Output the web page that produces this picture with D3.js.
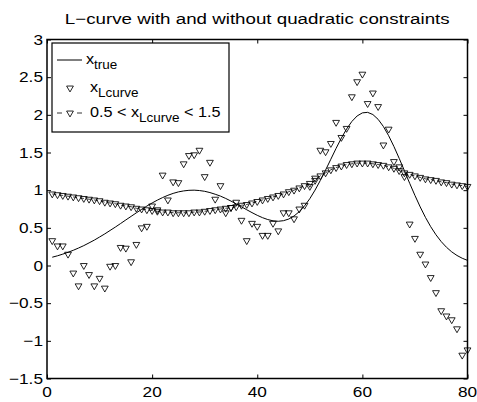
<!DOCTYPE html>
<html>
<head>
<meta charset="utf-8">
<script src="https://cdn.jsdelivr.net/npm/d3@7"></script>
<style>
  html, body { margin: 0; padding: 0; background: #fff; }
  svg { display: block; }
  text { font-family: "Liberation Sans", Arial, Helvetica, sans-serif; fill: #000; }
</style>
</head>
<body>
<div id="chart"></div>
<script>
const titleText = "L\u2212curve with and without quadratic constraints";
const xTicks = [0, 20, 40, 60, 80];
const yTicks = [-1.5, -1, -0.5, 0, 0.5, 1, 1.5, 2, 2.5, 3];

const xTrue = [
  0.110, 0.129, 0.151, 0.175, 0.202, 0.232, 0.264, 0.300, 0.337, 0.378,
  0.420, 0.465, 0.510, 0.557, 0.605, 0.652, 0.699, 0.745, 0.789, 0.830,
  0.868, 0.902, 0.932, 0.957, 0.977, 0.990, 0.998, 1.000, 0.995, 0.985,
  0.968, 0.946, 0.921, 0.890, 0.855, 0.818, 0.779, 0.740, 0.702, 0.666,
  0.635, 0.610, 0.593, 0.587, 0.595, 0.617, 0.657, 0.715, 0.792, 0.887,
  1.001, 1.129, 1.267, 1.411, 1.555, 1.691, 1.812, 1.912, 1.985, 2.026,
  2.033, 2.004, 1.940, 1.845, 1.723, 1.580, 1.423, 1.258, 1.091, 0.930,
  0.778, 0.639, 0.515, 0.408, 0.317, 0.242, 0.181, 0.133, 0.096, 0.068
];

const xLcurve = [
  0.33, 0.26, 0.26, 0.15, -0.10, -0.27, 0.00, -0.12, -0.27, -0.17,
  -0.30, -0.01, 0.00, 0.24, 0.23, 0.05, 0.28, 0.50, 0.52, 0.79,
  0.74, 1.20, 0.87, 1.11, 1.10, 1.35, 1.46, 1.47, 1.53, 1.18,
  1.37, 0.88, 1.06, 0.70, 0.77, 0.84, 0.60, 0.33, 0.56, 0.52,
  0.40, 0.40, 0.56, 0.46, 0.70, 0.70, 0.62, 0.75, 0.80, 1.05,
  1.16, 1.53, 1.51, 1.62, 1.90, 1.70, 1.82, 2.24, 2.44, 2.54,
  2.15, 2.29, 2.11, 1.60, 1.81, 1.38, 1.31, 1.18, 0.55, 0.36,
  0.15, 0.02, -0.16, -0.36, -0.60, -0.67, -0.72, -0.84, -1.19, -1.12
];

const xConstr = [
  0.95, 0.94, 0.93, 0.92, 0.91, 0.90, 0.89, 0.88, 0.87, 0.86,
  0.84, 0.83, 0.82, 0.80, 0.79, 0.78, 0.76, 0.75, 0.74, 0.73,
  0.72, 0.71, 0.71, 0.70, 0.70, 0.70, 0.70, 0.71, 0.71, 0.72,
  0.73, 0.74, 0.75, 0.76, 0.77, 0.78, 0.80, 0.81, 0.83, 0.85,
  0.87, 0.89, 0.91, 0.93, 0.95, 0.98, 1.00, 1.03, 1.06, 1.09,
  1.13, 1.19, 1.23, 1.27, 1.30, 1.32, 1.34, 1.35, 1.36, 1.36,
  1.36, 1.35, 1.34, 1.33, 1.31, 1.29, 1.26, 1.23, 1.21, 1.19,
  1.17, 1.15, 1.14, 1.13, 1.11, 1.10, 1.08, 1.07, 1.06, 1.05
];

const idx = d3.range(1, xTrue.length + 1);
const legendLabels = [
  { main: "x", sub: "true", tail: "" },
  { main: "x", sub: "Lcurve", tail: "" },
  { main: "0.5 < x", sub: "Lcurve", tail: " < 1.5" }
];

(function () {
const W = 477, H = 402;
const pL = 47, pR = 467.5, pT = 39.5, pB = 378.5;
const fs = 15, sx = 1.15, lsx = 1.08;

const svg = d3.select("#chart").append("svg").attr("width", W).attr("height", H);

const x = d3.scaleLinear().domain([0, 80]).range([pL, pR]);
const y = d3.scaleLinear().domain([-1.5, 3]).range([pB, pT]);
const fmt = d3.format("~g");

const gB = svg.append("g").attr("transform", `translate(0,${pB})`)
  .call(d3.axisBottom(x).tickValues(xTicks).tickSize(-4).tickFormat(""));
const gT = svg.append("g").attr("transform", `translate(0,${pT})`)
  .call(d3.axisTop(x).tickValues(xTicks).tickSize(-4).tickFormat(""));
const gL = svg.append("g").attr("transform", `translate(${pL},0)`)
  .call(d3.axisLeft(y).tickValues(yTicks).tickSize(-4).tickFormat(""));
const gR = svg.append("g").attr("transform", `translate(${pR},0)`)
  .call(d3.axisRight(y).tickValues(yTicks).tickSize(-4).tickFormat(""));
[gB, gT, gL, gR].forEach(g => {
  g.select(".domain").remove();
  g.selectAll(".tick line").attr("stroke", "#000").attr("stroke-width", 1);
});
svg.append("rect").attr("x", pL).attr("y", pT)
  .attr("width", pR - pL).attr("height", pB - pT)
  .attr("fill", "none").attr("stroke", "#000").attr("stroke-width", 1.5);

svg.append("g").selectAll("text").data(xTicks).join("text")
  .attr("transform", d => `translate(${x(d)},${pB + 18}) scale(${sx},1)`)
  .attr("text-anchor", "middle").attr("font-size", fs).text(d => fmt(d));
svg.append("g").selectAll("text").data(yTicks).join("text")
  .attr("transform", d => `translate(${pL - 4},${y(d) + 5.3}) scale(${sx},1)`)
  .attr("text-anchor", "end").attr("font-size", fs).text(d => fmt(d));

svg.append("text")
  .attr("transform", `translate(${(pL + pR) / 2},24) scale(1.25,1)`)
  .attr("text-anchor", "middle").attr("font-size", 15).text(titleText);

const line = d3.line().x((d, i) => x(idx[i])).y(d => y(d));
svg.append("path").datum(xTrue).attr("d", line)
  .attr("fill", "none").attr("stroke", "#000").attr("stroke-width", 1);

svg.append("path").datum(xConstr).attr("d", line)
  .attr("fill", "none").attr("stroke", "#000").attr("stroke-width", 0.8)
  .attr("stroke-dasharray", "4,3");

const tri = d3.symbol().type(d3.symbolTriangle).size(20)();
function markers(data) {
  svg.append("g").selectAll("path").data(data).join("path")
    .attr("d", tri)
    .attr("transform", (d, i) => `translate(${x(idx[i])},${y(d)}) rotate(180)`)
    .attr("fill", "none").attr("stroke", "#000").attr("stroke-width", 0.85);
}
markers(xLcurve);
markers(xConstr);

const lg = svg.append("g");
lg.append("rect").attr("x", 52).attr("y", 43).attr("width", 177).attr("height", 89)
  .attr("fill", "#fff").attr("stroke", "#000").attr("stroke-width", 1.2);
const rowsY = [60, 88, 113];
const textBase = [64, 92, 116.5];
const textX = [86, 90, 90];
lg.append("line").attr("x1", 57).attr("x2", 82).attr("y1", rowsY[0]).attr("y2", rowsY[0])
  .attr("stroke", "#000").attr("stroke-width", 1);
lg.append("path").attr("d", tri).attr("transform", `translate(70,${rowsY[1]}) rotate(180)`)
  .attr("fill", "none").attr("stroke", "#000").attr("stroke-width", 0.85);
lg.append("line").attr("x1", 57).attr("x2", 82).attr("y1", rowsY[2]).attr("y2", rowsY[2])
  .attr("stroke", "#000").attr("stroke-width", 0.8).attr("stroke-dasharray", "5,15,5");
lg.append("path").attr("d", tri).attr("transform", `translate(70,${rowsY[2]}) rotate(180)`)
  .attr("fill", "none").attr("stroke", "#000").attr("stroke-width", 0.85);
legendLabels.forEach((l, i) => {
  const t = lg.append("text")
    .attr("transform", `translate(${textX[i]},${textBase[i]}) scale(${lsx},1)`)
    .attr("font-size", fs);
  t.append("tspan").text(l.main);
  t.append("tspan").attr("font-size", 12.5).attr("dy", 5).text(l.sub);
  if (l.tail) t.append("tspan").attr("dy", -5).text(l.tail);
});
})();
</script>
</body>
</html>
